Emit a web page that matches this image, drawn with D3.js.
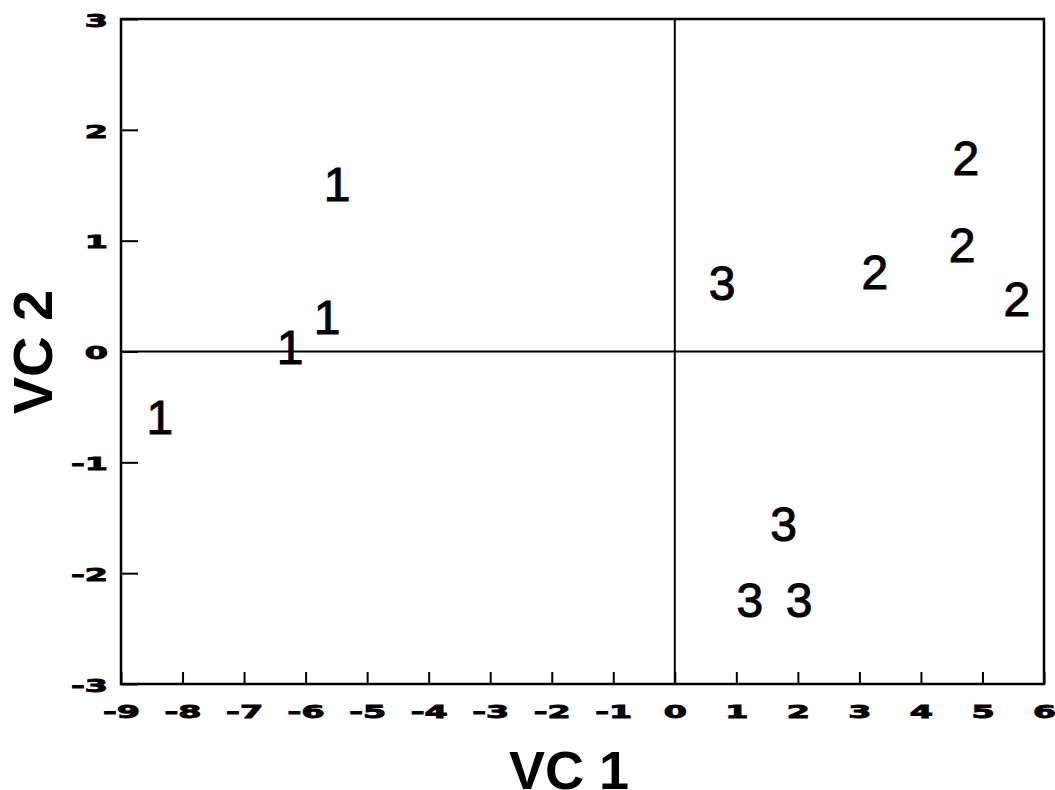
<!DOCTYPE html>
<html>
<head>
<meta charset="utf-8">
<script src="https://cdn.jsdelivr.net/npm/d3@7"></script>
<style>
  body { margin: 0; background: #fff; }
  svg { display: block; }
</style>
</head>
<body>
<svg id="chart" width="1055" height="790"></svg>
<script>
// ---- data ----
const groupLabels = ["1", "1", "1", "1", "2", "2", "2", "2", "3", "3", "3", "3"];
const vc1Values   = [-5.49, -5.65, -6.25, -8.37, 4.73, 3.25, 4.67, 5.56, 0.77, 1.77, 1.22, 2.02];
const vc2Values   = [1.51, 0.31, 0.04, -0.59, 1.75, 0.72, 0.96, 0.48, 0.62, -1.55, -2.24, -2.24];
const xTicks = [-9, -8, -7, -6, -5, -4, -3, -2, -1, 0, 1, 2, 3, 4, 5, 6];
const yTicks = [-3, -2, -1, 0, 1, 2, 3];
const xTitle = "VC 1";
const yTitle = "VC 2";

const points = groupLabels.map((g, i) => ({ g, x: vc1Values[i], y: vc2Values[i] }));

// ---- layout ----
const svg = d3.select("#chart");
const pLeft = 121, pRight = 1044, pTop = 19, pBottom = 684;

const x = d3.scaleLinear().domain([-9, 6]).range([pLeft, pRight]);
const y = d3.scaleLinear().domain([-3, 3]).range([pBottom, pTop]);

const tickFont = "'DejaVu Sans', sans-serif";
const stretch = 1.85;
const fmt = d => String(d);

function styleTicks(sel) {
  sel.attr("fill", "#000")
    .attr("stroke", "#000").attr("stroke-width", 0.9)
    .style("font-family", tickFont).style("font-weight", "bold").style("font-size", "18px")
    .attr("transform", `scale(${stretch},1)`);
}

// x axis
const gx = svg.append("g").attr("transform", `translate(0,${pBottom})`)
  .call(d3.axisBottom(x).tickValues(xTicks).tickFormat(fmt).tickSize(-12).tickSizeOuter(0));
gx.select(".domain").remove();
gx.selectAll(".tick line").attr("stroke", "#000").attr("stroke-width", 2);
gx.selectAll(".tick text").attr("dy", null).attr("y", 34).call(styleTicks);

// y axis
const gy = svg.append("g").attr("transform", `translate(${pLeft},0)`)
  .call(d3.axisLeft(y).tickValues(yTicks).tickFormat(fmt).tickSize(-17).tickSizeOuter(0));
gy.select(".domain").remove();
gy.selectAll(".tick line").attr("stroke", "#000").attr("stroke-width", 2);
gy.selectAll(".tick text").attr("x", -13 / stretch).attr("dy", "0.40em").call(styleTicks);

// frame
svg.append("rect")
  .attr("x", pLeft).attr("y", pTop)
  .attr("width", pRight - pLeft).attr("height", pBottom - pTop)
  .attr("fill", "none").attr("stroke", "#000").attr("stroke-width", 2.5);

// zero lines
svg.append("line")
  .attr("x1", pLeft).attr("x2", pRight).attr("y1", y(0)).attr("y2", y(0))
  .attr("stroke", "#000").attr("stroke-width", 2);
svg.append("line")
  .attr("x1", x(0)).attr("x2", x(0)).attr("y1", pTop).attr("y2", pBottom)
  .attr("stroke", "#000").attr("stroke-width", 2);

// point labels
svg.append("g").selectAll("text").data(points).join("text")
  .attr("x", d => x(d.x))
  .attr("y", d => y(d.y))
  .attr("dy", "0.36em")
  .attr("text-anchor", "middle")
  .style("font-family", "'Liberation Sans', Arial, sans-serif")
  .style("font-size", "48px")
  .attr("fill", "#000")
  .attr("stroke", "#000").attr("stroke-width", 1)
  .text(d => d.g);

// axis titles
svg.append("text")
  .attr("x", 569).attr("y", 789)
  .attr("text-anchor", "middle")
  .style("font-family", "'Liberation Sans', Arial, sans-serif")
  .style("font-weight", "bold").style("font-size", "54px")
  .attr("fill", "#000")
  .text(xTitle);

svg.append("text")
  .attr("transform", "translate(52,352) rotate(-90)")
  .attr("text-anchor", "middle")
  .style("font-family", "'Liberation Sans', Arial, sans-serif")
  .style("font-weight", "bold").style("font-size", "56px")
  .attr("fill", "#000")
  .text(yTitle);
</script>
</body>
</html>
